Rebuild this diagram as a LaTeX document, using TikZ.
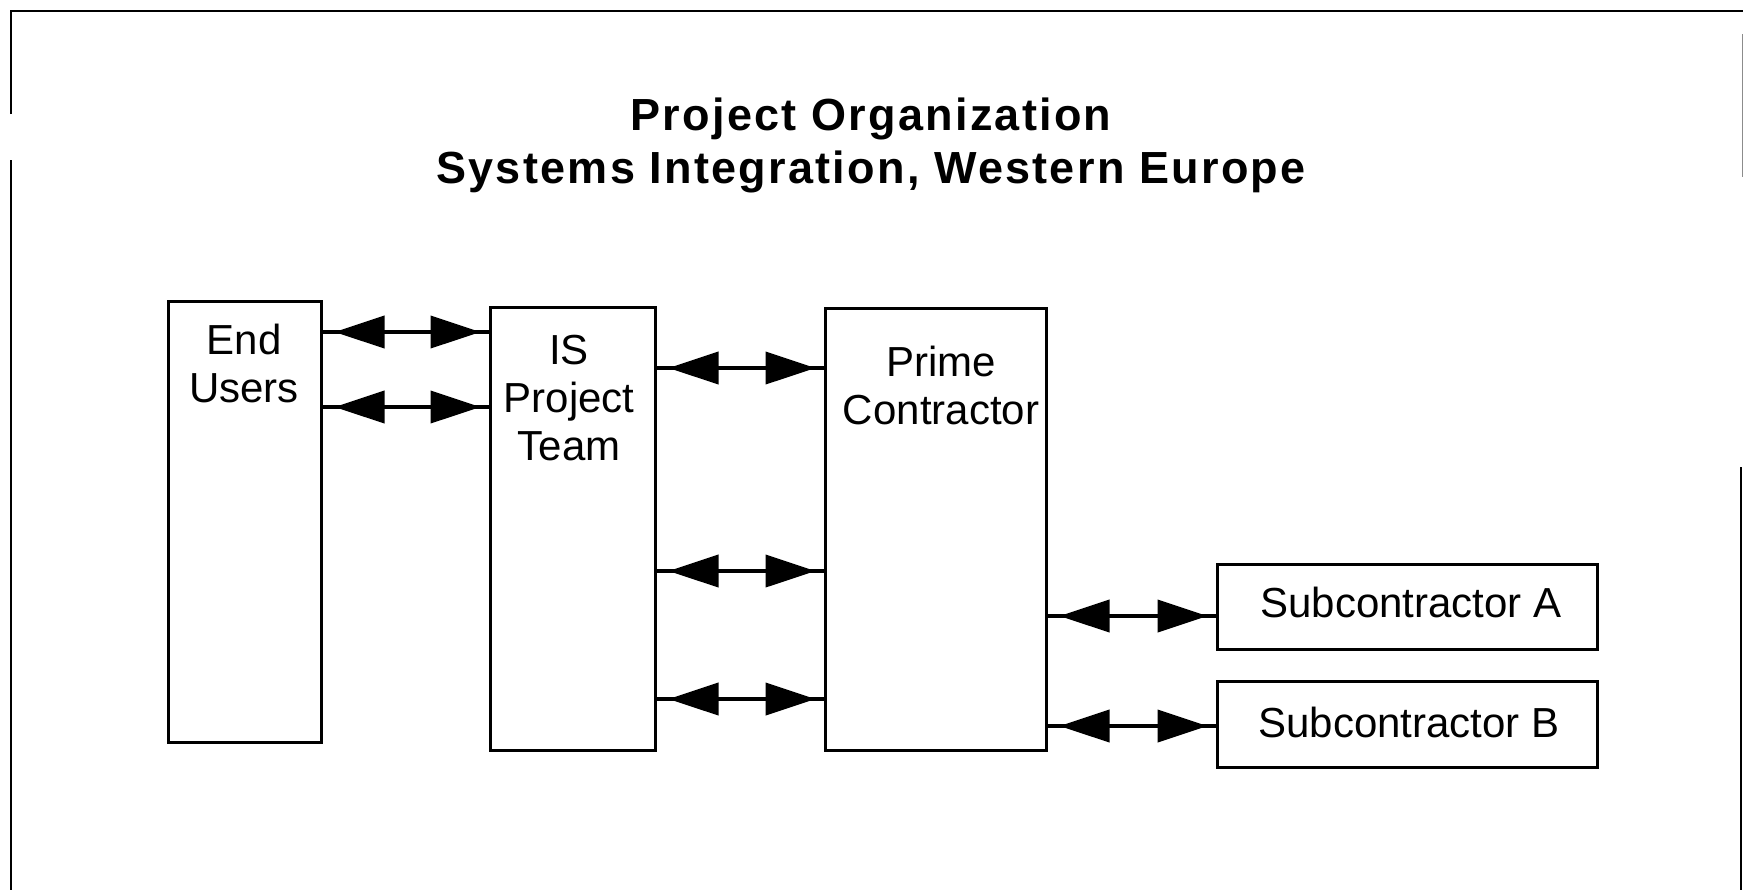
\documentclass[tikz,border=0pt]{standalone}
\usepackage{fontspec}
\setmainfont{Liberation Sans}
\newfontfamily\headfont[LetterSpace=5.0]{Liberation Sans}
\usetikzlibrary{arrows.meta,decorations.markings}

\begin{document}
\begin{tikzpicture}[x=0.5pt,y=-0.5pt,
  box/.style={draw, line width=1.5pt, inner sep=0pt},
  lbl/.style={font=\fontsize{21}{24}\selectfont, align=center, inner sep=0pt, anchor=base},
  head/.style={font=\headfont\bfseries\fontsize{22.5}{26.5}\selectfont, align=center, inner sep=0pt, anchor=base},
  link/.style={line width=2pt, postaction={decorate},
    decoration={markings,
      mark=at position 6pt with {\arrowreversed{Triangle[length=25pt,width=16pt]}},
      mark=at position -4pt with {\arrow{Triangle[length=25pt,width=16pt]}}}},
  frame/.style={line width=1pt}
]
% page extent
\useasboundingbox (0,0) rectangle (1743,890);

% broken outer frame
\draw[frame] (11,114) -- (11,11) -- (1743,11);
\draw[frame] (11,160) -- (11,890);
\draw[frame] (1741,467) -- (1741,890);
\draw[line width=0.5pt, black!45] (1742,34) -- (1742,177);

% heading (base anchor = baseline of the last line)
\node[head] (title) at (871,183) {Project Organization\\Systems Integration, Western Europe};

% boxes
\node[box, minimum width=76.5pt, minimum height=220.5pt] (eu) at (244.5,521.5) {};
\node[box, minimum width=82.5pt, minimum height=221.5pt] (is) at (572.5,528.5) {};
\node[box, minimum width=110.5pt, minimum height=221pt] (pc) at (935.5,529) {};
\node[box, minimum width=190pt, minimum height=42.5pt] (sa) at (1407,606.5) {};
\node[box, minimum width=190pt, minimum height=43pt] (sb) at (1407,724.5) {};

% box captions
\node[lbl] (eut) at (244,402) {End\\Users};
\node[lbl] (ist) at (569,460) {IS\\Project\\Team};
\node[lbl] (pct) at (941,424) {Prime\\Contractor};
\node[lbl] (sat) at (1411,617) {Subcontractor A};
\node[lbl] (sbt) at (1409,737) {Subcontractor B};

% two-way links
\draw[link] (eu.east |- 0,332) -- (is.west |- 0,332);
\draw[link] (eu.east |- 0,407) -- (is.west |- 0,407);
\draw[link] (is.east |- 0,368) -- (pc.west |- 0,368);
\draw[link] (is.east |- 0,571) -- (pc.west |- 0,571);
\draw[link] (is.east |- 0,699) -- (pc.west |- 0,699);
\draw[link] (pc.east |- 0,616) -- (sa.west |- 0,616);
\draw[link] (pc.east |- 0,726) -- (sb.west |- 0,726);
\end{tikzpicture}
\end{document}
